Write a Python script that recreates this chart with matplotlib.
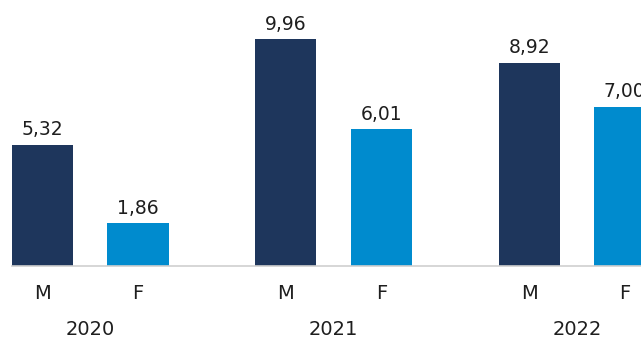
import matplotlib
matplotlib.use("Agg")
import matplotlib.pyplot as plt

years = ["2020", "2021", "2022"]
sexes = ["M", "F"]
male = [5.32, 9.96, 8.92]
female = [1.86, 6.01, 7.00]

navy = "#1E365C"
blue = "#008BCE"
text_color = "#1E1E1E"

fig = plt.figure(figsize=(6.41, 3.40), dpi=100)
ax = fig.add_axes([12 / 641, (340 - 265.5) / 340, (641 - 12) / 641, 265.5 / 340])

group_step = 2.55
bar_w = 0.64
xm = [i * group_step for i in range(len(years))]
xf = [x + 1 for x in xm]

ax.bar(xm, male, width=bar_w, color=navy, zorder=2)
ax.bar(xf, female, width=bar_w, color=blue, zorder=2)

fmt = lambda v: f"{v:.2f}".replace(".", ",")
for x, v in list(zip(xm, male)) + list(zip(xf, female)):
    ax.annotate(fmt(v), (x, v), xytext=(0, 4), textcoords="offset points",
                ha="center", va="bottom", fontsize=13.5, color=text_color,
                annotation_clip=False)

ax.set_xlim(-0.32, 6.27)
ax.set_ylim(0, 265.5 / 22.7)

ax.set_xticks(xm + xf)
ax.set_xticklabels([sexes[0]] * 3 + [sexes[1]] * 3, fontsize=14, color=text_color)
ax.tick_params(axis="x", length=0, pad=13)
ax.set_yticks([])

for x, y in zip(xm, years):
    ax.annotate(y, (x + 0.5, 0), xytext=(0, -46), textcoords="offset points",
                ha="center", va="center", fontsize=14, color=text_color,
                annotation_clip=False, xycoords=("data", "axes fraction"))

for s in ["top", "right", "left"]:
    ax.spines[s].set_visible(False)
ax.spines["bottom"].set_color("#CFCFCF")
ax.spines["bottom"].set_linewidth(1.2)

fig.savefig("out.png", dpi=100)
